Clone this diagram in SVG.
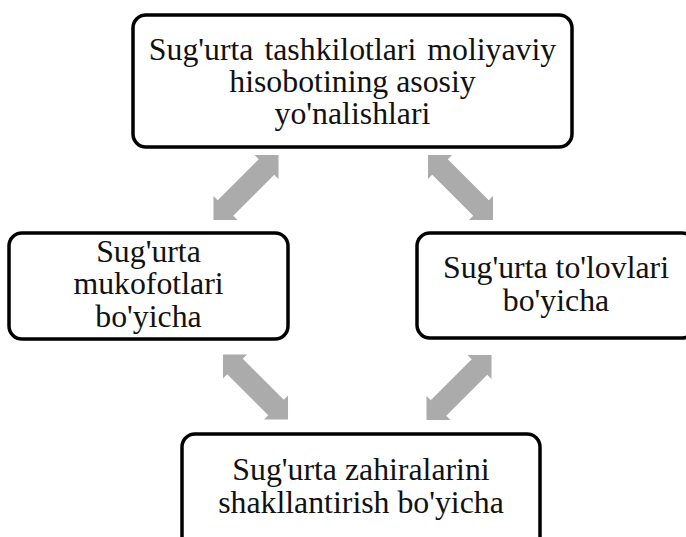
<svg xmlns="http://www.w3.org/2000/svg" width="686" height="537" viewBox="0 0 686 537">
  <style>
    .box { fill: #ffffff; stroke: #000000; stroke-width: 3.5; }
    .lbl { font-family: "Liberation Serif", "Times New Roman", serif; font-size: 31.8px; fill: #111111; text-anchor: middle; }
    .arrow { fill: #ababab; }
  </style>
  <defs>
    <!-- double-headed block arrow along the x axis, centred on the origin -->
    <polygon id="dblArrow" points="-46,0 -29,-17 -29,-11 29,-11 29,-17 46,0 29,17 29,11 -29,11 -29,17"/>
  </defs>

  <g id="connectors">
    <use href="#dblArrow" class="arrow" transform="translate(246,187.5) rotate(-45)"/>
    <use href="#dblArrow" class="arrow" transform="translate(460.5,187.5) rotate(45)"/>
    <use href="#dblArrow" class="arrow" transform="translate(255.5,387) rotate(45)"/>
    <use href="#dblArrow" class="arrow" transform="translate(459,387.5) rotate(-45)"/>
  </g>

  <g id="node-main">
    <rect class="box" x="133" y="15" width="439" height="132" rx="13"/>
    <text class="lbl" x="352.5" y="60" word-spacing="3">Sug'urta tashkilotlari moliyaviy</text>
    <text class="lbl" x="352.5" y="92">hisobotining asosiy</text>
    <text class="lbl" x="352.5" y="124">yo'nalishlari</text>
  </g>

  <g id="node-premiums">
    <rect class="box" x="9" y="233" width="279" height="106" rx="13"/>
    <text class="lbl" x="148.5" y="262">Sug'urta</text>
    <text class="lbl" x="148.5" y="294">mukofotlari</text>
    <text class="lbl" x="148.5" y="327">bo'yicha</text>
  </g>

  <g id="node-payments">
    <rect class="box" x="417" y="233" width="278" height="105" rx="13"/>
    <text class="lbl" x="556" y="278">Sug'urta to'lovlari</text>
    <text class="lbl" x="556" y="311">bo'yicha</text>
  </g>

  <g id="node-reserves">
    <rect class="box" x="182" y="434" width="358" height="120" rx="13"/>
    <text class="lbl" x="361" y="480">Sug'urta zahiralarini</text>
    <text class="lbl" x="361" y="513">shakllantirish bo'yicha</text>
  </g>
</svg>
